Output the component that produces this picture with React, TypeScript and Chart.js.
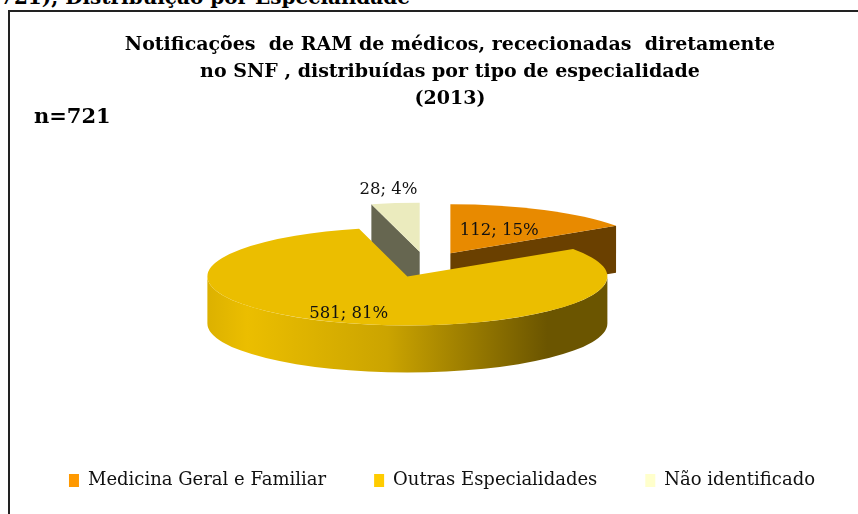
import React, { useEffect, useRef } from "react";
import { Chart, registerables } from "chart.js";

Chart.register(...registerables);

const headerText = "721), Distribuição por Especialidade";
const titleLines = [
  "Notificações  de RAM de médicos, rececionadas  diretamente",
  "no SNF , distribuídas por tipo de especialidade",
  "(2013)",
];
const sampleLabel = "n=721";

const categories = ["Medicina Geral e Familiar", "Outras Especialidades", "Não identificado"];
const counts = [112, 581, 28];
const percents = [15, 81, 4];

const legendColors = ["#FF9900", "#FFCC00", "#FFFFCC"];
const topColors = ["#E88A00", "#EBBE00", "#EBEBBE"];
const sideColors = ["#6A4000", "#6B5500", "#666650"];
const labelRadius = [0.52, 0.82, 1.28];

const FONT = "'DejaVu Serif', serif";

function hexToRgb(h: string) {
  const n = parseInt(h.slice(1), 16);
  return [(n >> 16) & 255, (n >> 8) & 255, n & 255];
}
function mix(a: string, b: string, t: number) {
  const A = hexToRgb(a), B = hexToRgb(b);
  const c = A.map((v, i) => Math.round(v + (B[i] - v) * t));
  return `rgb(${c[0]},${c[1]},${c[2]})`;
}

const TILT = 0.245;
const DEPTH = 47;
const EXPLODE = 0.26;

const pie3d = {
  id: "pie3d",
  beforeDatasetsDraw(chart: any) {
    const meta = chart.getDatasetMeta(0);
    const ctx: CanvasRenderingContext2D = chart.ctx;
    const slices = meta.data.map((arc: any, i: number) => {
      const p = arc.getProps(["x", "y", "startAngle", "endAngle", "outerRadius"], true);
      const mid = (p.startAngle + p.endAngle) / 2;
      const R = p.outerRadius;
      return {
        i,
        R,
        a0: p.startAngle,
        a1: p.endAngle,
        mid,
        cx: p.x + Math.cos(mid) * R * EXPLODE,
        cy: p.y + Math.sin(mid) * R * EXPLODE * TILT,
      };
    });
    const order = [...slices].sort((a: any, b: any) => a.cy - b.cy);
    ctx.save();
    for (const s of order) {
      const { cx, cy, R, a0, a1, i } = s;
      const ry = R * TILT;
      const pt = (a: number) => [cx + R * Math.cos(a), cy + ry * Math.sin(a)];
      // radial faces
      const faces: number[] = [];
      if (Math.cos(a0) < -1e-6) faces.push(a0);
      if (Math.cos(a1) > 1e-6) faces.push(a1);
      for (const a of faces) {
        const [x, y] = pt(a);
        ctx.beginPath();
        ctx.moveTo(cx, cy);
        ctx.lineTo(x, y);
        ctx.lineTo(x, y + DEPTH);
        ctx.lineTo(cx, cy + DEPTH);
        ctx.closePath();
        ctx.fillStyle = sideColors[i];
        ctx.fill();
      }
      // curved outer side (front half only)
      const b0 = Math.max(a0, 0);
      const b1 = Math.min(a1, Math.PI);
      if (b1 > b0) {
        const g = ctx.createLinearGradient(cx - R, 0, cx + R, 0);
        g.addColorStop(0, mix(topColors[i], sideColors[i], 0.12));
        g.addColorStop(0.1, mix(topColors[i], sideColors[i], 0.0));
        g.addColorStop(0.45, mix(topColors[i], sideColors[i], 0.25));
        g.addColorStop(0.85, mix(topColors[i], sideColors[i], 1));
        g.addColorStop(1, mix(topColors[i], sideColors[i], 1));
        ctx.beginPath();
        ctx.ellipse(cx, cy, R, ry, 0, b0, b1, false);
        ctx.ellipse(cx, cy + DEPTH, R, ry, 0, b1, b0, true);
        ctx.closePath();
        ctx.fillStyle = g;
        ctx.fill();
      }
      // top face
      ctx.beginPath();
      ctx.moveTo(cx, cy);
      ctx.ellipse(cx, cy, R, ry, 0, a0, a1, false);
      ctx.closePath();
      ctx.fillStyle = topColors[i];
      ctx.fill();
    }
    // data labels
    ctx.fillStyle = "#111";
    ctx.font = `16.5px ${FONT}`;
    ctx.textAlign = "center";
    ctx.textBaseline = "middle";
    for (const s of slices) {
      const r = s.R * labelRadius[s.i];
      const x = s.cx + Math.cos(s.mid) * r;
      const y = s.cy + Math.sin(s.mid) * r * TILT;
      ctx.fillText(`${counts[s.i]}; ${percents[s.i]}%`, x, y);
    }
    ctx.restore();
    return false;
  },
};

export default function App() {
  const ref = useRef<HTMLCanvasElement>(null);
  useEffect(() => {
    document.body.style.overflow = "hidden";
    const chart = new Chart(ref.current!, {
      type: "pie",
      data: {
        labels: categories,
        datasets: [
          {
            data: counts,
            backgroundColor: legendColors,
            borderWidth: 0,
            radius: 200,
          } as any,
        ],
      },
      options: {
        responsive: false,
        animation: false,
        events: [],
        layout: { padding: { top: 93.5, bottom: 14.5, left: 0, right: 0 } },
        plugins: {
          legend: {
            position: "bottom",
            fullSize: true,
            labels: {
              boxWidth: 10,
              boxHeight: 13,
              padding: 48,
              color: "#111",
              font: { family: FONT, size: 18 },
            },
          },
          // empty spacer on the right so the pie sits left of the legend's centre
          title: {
            display: true,
            position: "right",
            text: " ",
            font: { size: 10 },
            padding: { top: 10, bottom: 10 },
          },
          tooltip: { enabled: false },
        },
      },
      plugins: [pie3d],
    });
    return () => chart.destroy();
  }, []);

  return (
    <div
      style={{
        position: "fixed",
        left: 0,
        top: 0,
        width: 858,
        height: 514,
        overflow: "hidden",
        background: "#fff",
      }}
    >
      <div
        style={{
          position: "absolute",
          left: 0,
          top: -13,
          font: `bold 20px ${FONT}`,
          lineHeight: "20px",
          whiteSpace: "pre",
          color: "#000",
        }}
      >
        {headerText}
      </div>
      <div
        style={{
          position: "absolute",
          left: 8,
          top: 10,
          width: 900,
          height: 600,
          borderLeft: "2px solid #222",
          borderTop: "2px solid #222",
        }}
      />
      <canvas
        ref={ref}
        width={920}
        height={502}
        style={{ position: "absolute", left: -18, top: 12, width: 920, height: 502 }}
      />
      <div
        style={{
          position: "absolute",
          left: 0,
          width: 900,
          top: 30,
          textAlign: "center",
          font: `bold 19px ${FONT}`,
          lineHeight: "27px",
          whiteSpace: "pre",
          color: "#000",
        }}
      >
        {titleLines.join("\n")}
      </div>
      <div
        style={{
          position: "absolute",
          left: 34,
          top: 104,
          font: `bold 21px ${FONT}`,
          lineHeight: "24px",
          color: "#000",
        }}
      >
        {sampleLabel}
      </div>
      <div
        style={{
          position: "absolute",
          left: 8,
          top: 10,
          width: 2,
          height: 520,
          background: "#222",
        }}
      />
    </div>
  );
}
